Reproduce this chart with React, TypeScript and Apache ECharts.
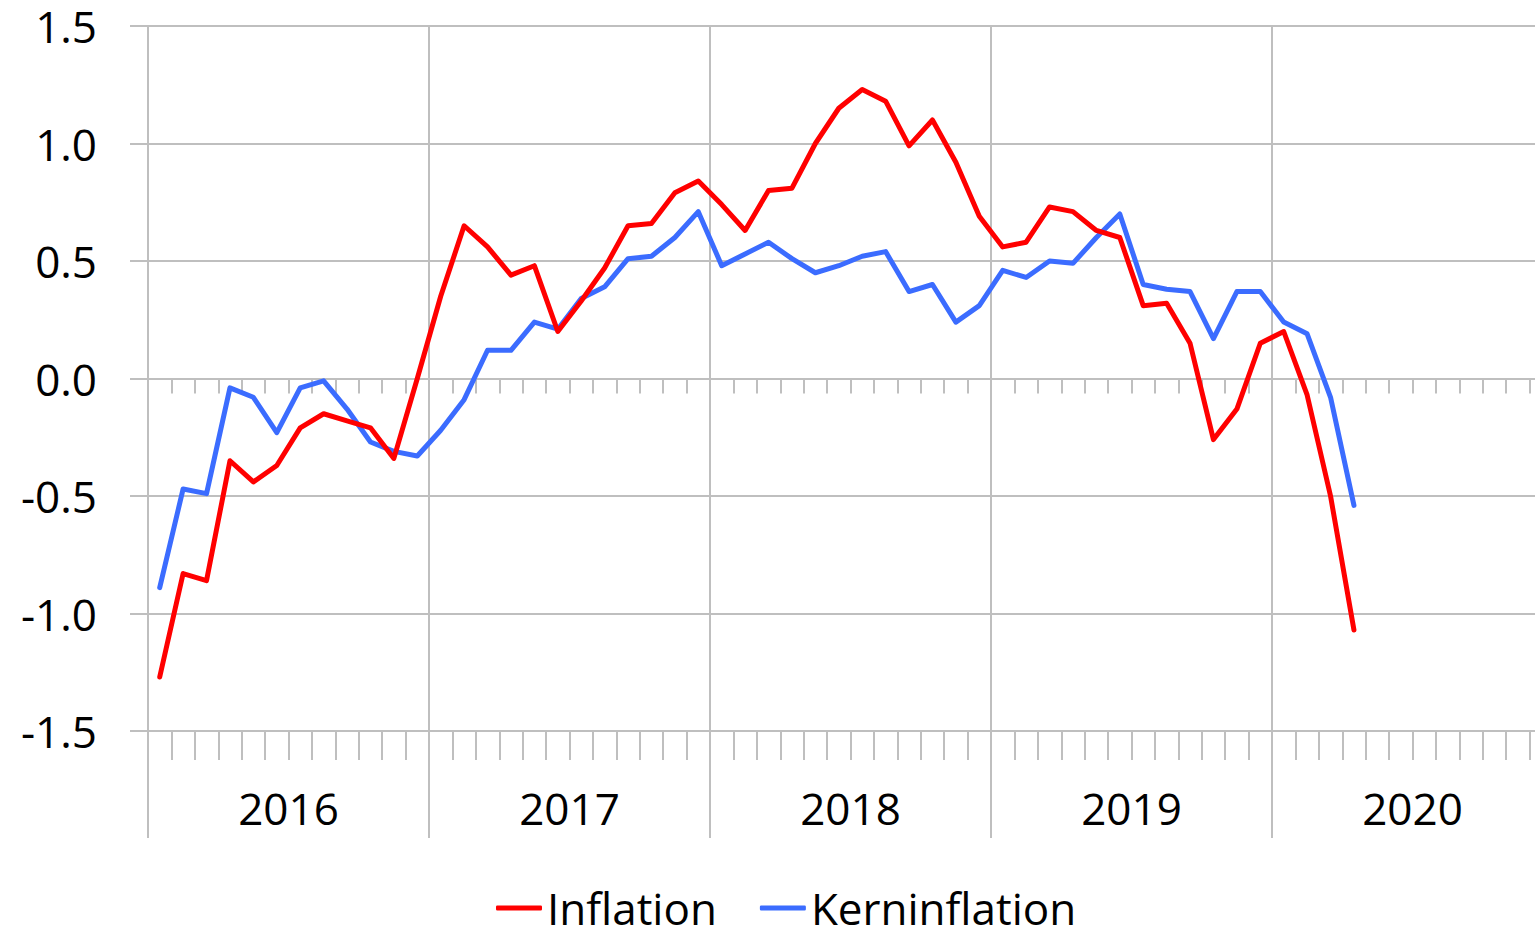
import React, { useEffect, useRef } from "react";
import * as echarts from "echarts";

const years = ["2016", "2017", "2018", "2019", "2020"];
const monthCodes = ["01", "02", "03", "04", "05", "06", "07", "08", "09", "10", "11", "12"];

const inflation = [
  -1.27, -0.83, -0.86, -0.35, -0.44, -0.37, -0.21, -0.15, -0.18, -0.21, -0.34, 0.0,
  0.35, 0.65, 0.56, 0.44, 0.48, 0.2, 0.33, 0.47, 0.65, 0.66, 0.79, 0.84,
  0.74, 0.63, 0.8, 0.81, 1.0, 1.15, 1.23, 1.18, 0.99, 1.1, 0.92, 0.69,
  0.56, 0.58, 0.73, 0.71, 0.63, 0.6, 0.31, 0.32, 0.15, -0.26, -0.13, 0.15,
  0.2, -0.07, -0.5, -1.07,
];

const kerninflation = [
  -0.89, -0.47, -0.49, -0.04, -0.08, -0.23, -0.04, -0.01, -0.13, -0.27, -0.31, -0.33,
  -0.22, -0.09, 0.12, 0.12, 0.24, 0.21, 0.34, 0.39, 0.51, 0.52, 0.6, 0.71,
  0.48, 0.53, 0.58, 0.51, 0.45, 0.48, 0.52, 0.54, 0.37, 0.4, 0.24, 0.31,
  0.46, 0.43, 0.5, 0.49, 0.6, 0.7, 0.4, 0.38, 0.37, 0.17, 0.37, 0.37,
  0.24, 0.19, -0.08, -0.54,
];

const yMin = -1.5;
const yMax = 1.5;
const yInterval = 0.5;

const seriesNames = ["Inflation", "Kerninflation"];
const seriesColors = ["#ff0000", "#3b6cff"];

const FONT = "'Open Sans', 'Noto Sans', sans-serif";
const GRID_COLOR = "#bfbfbf";

export default function App() {
  const ref = useRef<HTMLDivElement>(null);

  useEffect(() => {
    if (!ref.current) return;
    const chart = echarts.init(ref.current, null, { renderer: "svg" });
    const months = years.flatMap((y) => monthCodes.map((m) => `${y}-${m}`));
    const gridLine = { color: GRID_COLOR, width: 2 };

    chart.setOption({
      animation: false,
      backgroundColor: "#ffffff",
      grid: { left: 148, right: 47, top: 26, bottom: 195, containLabel: false },
      legend: {
        left: 491,
        top: 881,
        padding: [5, 5, 0, 5],
        icon: "roundRect",
        itemWidth: 46,
        itemHeight: 5,
        itemGap: 43,
        textStyle: {
          fontFamily: FONT,
          fontSize: 44,
          lineHeight: 40,
          color: "#000000",
        },
        data: seriesNames,
      },
      xAxis: [
        {
          type: "category",
          data: months,
          boundaryGap: true,
          position: "bottom",
          axisLine: { show: true, onZero: true, lineStyle: gridLine },
          axisTick: { show: true, interval: 0, length: 15, lineStyle: gridLine },
          axisLabel: { show: false },
          splitLine: {
            show: true,
            interval: (index: number) => index % 12 === 0,
            lineStyle: gridLine,
          },
        },
        {
          type: "category",
          data: months,
          boundaryGap: true,
          position: "bottom",
          axisLine: { show: true, onZero: false, lineStyle: gridLine },
          axisTick: { show: true, interval: 0, length: 29, lineStyle: gridLine },
          axisLabel: { show: false },
          splitLine: { show: false },
        },
        {
          type: "category",
          data: years,
          boundaryGap: true,
          position: "bottom",
          axisLine: { show: true, onZero: false, lineStyle: gridLine },
          axisTick: { show: true, interval: 0, length: 107, lineStyle: gridLine },
          axisLabel: {
            show: true,
            interval: 0,
            margin: 55,
            fontFamily: FONT,
            fontSize: 44,
            lineHeight: 44,
            color: "#000000",
          },
          splitLine: { show: false },
        },
      ],
      yAxis: {
        type: "value",
        min: yMin,
        max: yMax,
        interval: yInterval,
        axisLine: { show: true, lineStyle: gridLine },
        axisTick: { show: true, length: 18, lineStyle: gridLine },
        axisLabel: {
          margin: 51,
          fontFamily: FONT,
          fontSize: 44,
          lineHeight: 40,
          color: "#000000",
          formatter: (v: number) => v.toFixed(1),
        },
        splitLine: { show: true, lineStyle: gridLine },
      },
      series: [
        {
          name: seriesNames[0],
          type: "line",
          xAxisIndex: 0,
          data: inflation,
          symbol: "none",
          showSymbol: false,
          color: seriesColors[0],
          lineStyle: { color: seriesColors[0], width: 5, cap: "round", join: "round" },
          z: 3,
        },
        {
          name: seriesNames[1],
          type: "line",
          xAxisIndex: 0,
          data: kerninflation,
          symbol: "none",
          showSymbol: false,
          color: seriesColors[1],
          lineStyle: { color: seriesColors[1], width: 5, cap: "round", join: "round" },
          z: 2,
        },
      ],
    });

    return () => chart.dispose();
  }, []);

  return (
    <div
      style={{
        position: "fixed",
        left: 0,
        top: 0,
        width: 1535,
        height: 926,
        overflow: "hidden",
        background: "#ffffff",
      }}
    >
      <div ref={ref} style={{ width: 1600, height: 926 }} />
    </div>
  );
}
